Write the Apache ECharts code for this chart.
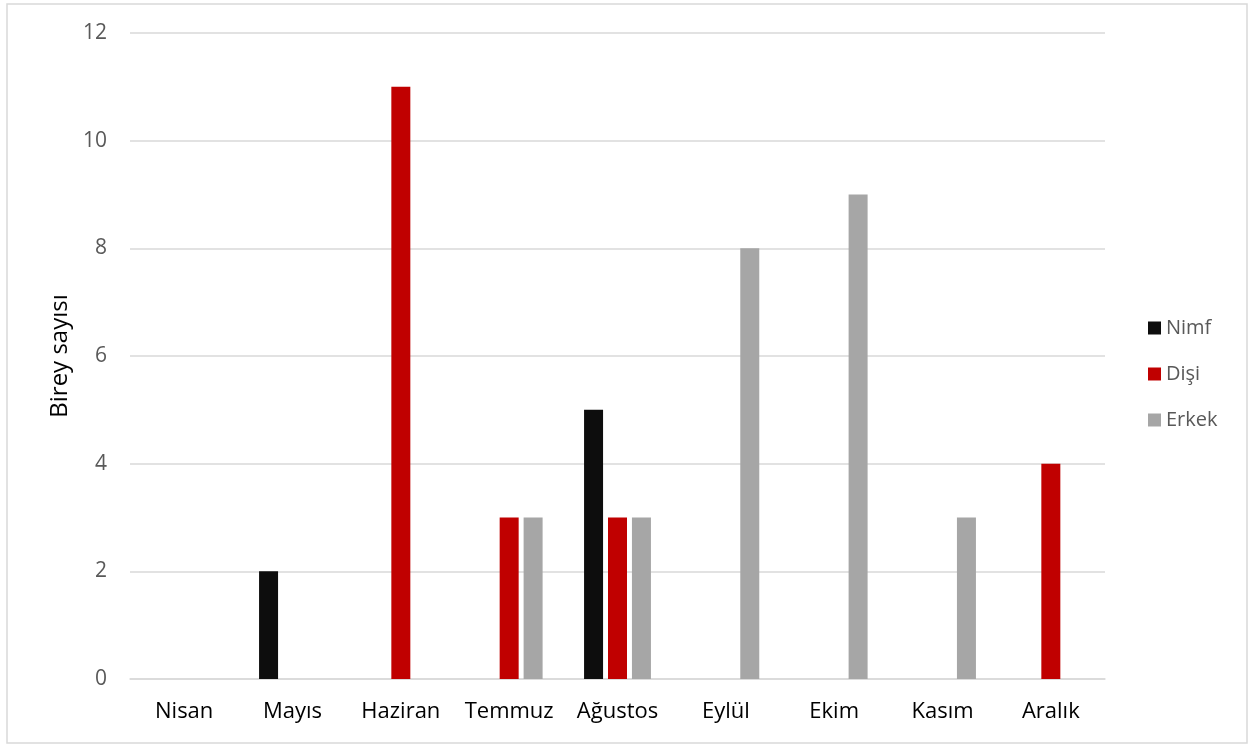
<!DOCTYPE html>
<html>
<head>
<meta charset="utf-8">
<script src="https://cdn.jsdelivr.net/npm/echarts@6/dist/echarts.min.js"></script>
<style>
  html, body { margin: 0; padding: 0; background: #fff; }
  #chart { width: 1253px; height: 745px; }
</style>
</head>
<body>
<div id="chart"></div>
<script>
// aylar ve seri değerleri
var months = ['Nisan', 'Mayıs', 'Haziran', 'Temmuz', 'Ağustos', 'Eylül', 'Ekim', 'Kasım', 'Aralık']
var nimf = [0, 2, 0, 0, 5, 0, 0, 0, 0]
var disi = [0, 0, 11, 3, 3, 0, 0, 0, 4]
var erkek = [0, 0, 0, 3, 3, 8, 9, 3, 0]
var yTicks = [0, 2, 4, 6, 8, 10, 12]

var font = 'Open Sans, Liberation Sans, sans-serif'
var chart = echarts.init(document.getElementById('chart'))

function bar (name, data, color) {
  return {
    name: name,
    type: 'bar',
    data: data,
    barWidth: 19,
    barGap: '26%',
    itemStyle: { color: color }
  }
}

chart.setOption({
  animation: false,
  backgroundColor: '#fff',
  textStyle: { fontFamily: font },
  graphic: [{
    type: 'rect',
    shape: { x: 7, y: 4, width: 1240, height: 739 },
    style: { fill: 'none', stroke: '#d9d9d9', lineWidth: 1.5 }
  }],
  grid: { left: 130, right: 148, top: 33, bottom: 66 },
  legend: {
    orient: 'vertical',
    left: 1148,
    top: 318,
    padding: 0,
    itemWidth: 13,
    itemHeight: 13,
    itemGap: 26,
    icon: 'rect',
    textStyle: { color: '#595959', fontSize: 20, fontFamily: font },
    data: ['Nimf', 'Dişi', 'Erkek']
  },
  xAxis: {
    type: 'category',
    data: months,
    axisLine: { lineStyle: { color: '#d9d9d9', width: 1.5 } },
    axisTick: { interval: 0, length: 7, lineStyle: { color: '#d9d9d9', width: 1.5 } },
    axisLabel: { interval: 0, color: '#000', fontSize: 22, margin: 22, fontFamily: font }
  },
  yAxis: {
    type: 'value',
    min: yTicks[0],
    max: yTicks[yTicks.length - 1],
    interval: 2,
    name: 'Birey sayısı',
    nameLocation: 'middle',
    nameGap: 57,
    nameTextStyle: { color: '#000', fontSize: 24, fontFamily: font },
    axisLine: { show: false },
    axisTick: { show: false },
    axisLabel: { color: '#595959', fontSize: 21, margin: 23, fontFamily: font },
    splitLine: { lineStyle: { color: '#d9d9d9', width: 1.5 } }
  },
  series: [
    bar('Nimf', nimf, '#0d0d0d'),
    bar('Dişi', disi, '#c00000'),
    bar('Erkek', erkek, '#a6a6a6')
  ]
})
</script>
</body>
</html>
